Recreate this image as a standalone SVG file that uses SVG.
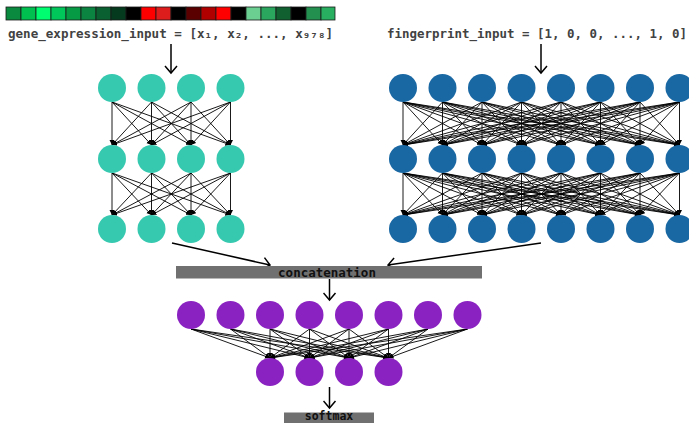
<svg xmlns="http://www.w3.org/2000/svg" width="689" height="423" viewBox="0 0 689 423">
  <style>
    .lbl { font-family: "DejaVu Sans Mono", "Liberation Mono", monospace; font-weight: bold; font-size: 12.5px; fill: #424242; }
    .bar-txt { font-family: "DejaVu Sans Mono", "Liberation Mono", monospace; font-weight: bold; font-size: 12.5px; fill: #111; text-anchor: middle; }
    .cell { stroke: #1a1a1a; stroke-width: 0.8; }
    .gene { fill: #36c9b0; }
    .fp { fill: #1967a3; }
    .dense { fill: #8a22c2; }
    .edge { stroke: #000; stroke-width: 0.9; fill: none; marker-end: url(#tip); }
    .flow { stroke: #000; stroke-width: 1.5; fill: none; marker-end: url(#chev); }
    .bar { fill: #707070; }
  </style>
  <defs>
    <marker id="tip" markerUnits="userSpaceOnUse" markerWidth="6" markerHeight="6" refX="5" refY="2.5" orient="auto">
      <path d="M0,0 L5,2.5 L0,5 Z" fill="#000"/>
    </marker>
    <marker id="chev" markerUnits="userSpaceOnUse" markerWidth="12" markerHeight="14" refX="8" refY="7" orient="auto">
      <path d="M1,1 L8,7 L1,13" fill="none" stroke="#000" stroke-width="1.5"/>
    </marker>
  </defs>

  <!-- expression heatmap strip -->
  <g id="heatmap">
    <rect class="cell" x="6" y="7" width="15" height="13" fill="#0a8a3e"/>
    <rect class="cell" x="21" y="7" width="15" height="13" fill="#00c050"/>
    <rect class="cell" x="36" y="7" width="15" height="13" fill="#00ff70"/>
    <rect class="cell" x="51" y="7" width="15" height="13" fill="#00c75a"/>
    <rect class="cell" x="66" y="7" width="15" height="13" fill="#079a45"/>
    <rect class="cell" x="81" y="7" width="15" height="13" fill="#0a8440"/>
    <rect class="cell" x="96" y="7" width="15" height="13" fill="#0a6030"/>
    <rect class="cell" x="111" y="7" width="15" height="13" fill="#053a1f"/>
    <rect class="cell" x="126" y="7" width="15" height="13" fill="#000000"/>
    <rect class="cell" x="141" y="7" width="15" height="13" fill="#ff0000"/>
    <rect class="cell" x="156" y="7" width="15" height="13" fill="#dd1c1c"/>
    <rect class="cell" x="171" y="7" width="15" height="13" fill="#000000"/>
    <rect class="cell" x="186" y="7" width="15" height="13" fill="#5a0000"/>
    <rect class="cell" x="201" y="7" width="15" height="13" fill="#b00000"/>
    <rect class="cell" x="216" y="7" width="15" height="13" fill="#ff0000"/>
    <rect class="cell" x="231" y="7" width="15" height="13" fill="#000000"/>
    <rect class="cell" x="246" y="7" width="15" height="13" fill="#6ccf92"/>
    <rect class="cell" x="261" y="7" width="15" height="13" fill="#2aa65e"/>
    <rect class="cell" x="276" y="7" width="15" height="13" fill="#106030"/>
    <rect class="cell" x="291" y="7" width="15" height="13" fill="#000000"/>
    <rect class="cell" x="306" y="7" width="15" height="13" fill="#239050"/>
    <rect class="cell" x="321" y="7" width="14" height="13" fill="#28b060"/>
  </g>

  <!-- input labels -->
  <g id="gene-input-label">
    <text class="lbl" x="8" y="38" textLength="325" lengthAdjust="spacingAndGlyphs">gene_expression_input = [x₁, x₂, ..., x₉₇₈]</text>
  </g>
  <g id="fingerprint-input-label">
    <text class="lbl" x="387" y="38" textLength="300" lengthAdjust="spacingAndGlyphs">fingerprint_input = [1, 0, 0, ..., 1, 0]</text>
  </g>

  <!-- connectors -->
  <g id="connectors">
    <!-- input arrows -->
    <path class="flow" d="M171,44 L171,73"/>
    <path class="flow" d="M541,44 L541,73"/>
    <!-- into concatenation -->
    <path class="flow" d="M172,243 L270,265"/>
    <path class="flow" d="M541,243 L388,265"/>
    <!-- out of concatenation -->
    <path class="flow" d="M329.5,279 L329.5,300"/>
    <!-- to softmax -->
    <path class="flow" d="M329.5,387 L329.5,408"/>

    <!-- gene network: layer 1 -> 2 -->
    <g id="gene-edges">
      <path class="edge" d="M112,102 L112,145"/><path class="edge" d="M112,102 L151.5,145"/><path class="edge" d="M112,102 L191,145"/><path class="edge" d="M112,102 L230.5,145"/>
      <path class="edge" d="M151.5,102 L112,145"/><path class="edge" d="M151.5,102 L151.5,145"/><path class="edge" d="M151.5,102 L191,145"/><path class="edge" d="M151.5,102 L230.5,145"/>
      <path class="edge" d="M191,102 L112,145"/><path class="edge" d="M191,102 L151.5,145"/><path class="edge" d="M191,102 L191,145"/><path class="edge" d="M191,102 L230.5,145"/>
      <path class="edge" d="M230.5,102 L112,145"/><path class="edge" d="M230.5,102 L151.5,145"/><path class="edge" d="M230.5,102 L191,145"/><path class="edge" d="M230.5,102 L230.5,145"/>
      <!-- layer 2 -> 3 -->
      <path class="edge" d="M112,173 L112,215"/><path class="edge" d="M112,173 L151.5,215"/><path class="edge" d="M112,173 L191,215"/><path class="edge" d="M112,173 L230.5,215"/>
      <path class="edge" d="M151.5,173 L112,215"/><path class="edge" d="M151.5,173 L151.5,215"/><path class="edge" d="M151.5,173 L191,215"/><path class="edge" d="M151.5,173 L230.5,215"/>
      <path class="edge" d="M191,173 L112,215"/><path class="edge" d="M191,173 L151.5,215"/><path class="edge" d="M191,173 L191,215"/><path class="edge" d="M191,173 L230.5,215"/>
      <path class="edge" d="M230.5,173 L112,215"/><path class="edge" d="M230.5,173 L151.5,215"/><path class="edge" d="M230.5,173 L191,215"/><path class="edge" d="M230.5,173 L230.5,215"/>
    </g>

    <!-- fingerprint network: layer 1 -> 2 -->
    <g id="fp-edges">
      <path class="edge" d="M403,102 L403,145"/><path class="edge" d="M403,102 L442.5,145"/><path class="edge" d="M403,102 L482,145"/><path class="edge" d="M403,102 L521.5,145"/><path class="edge" d="M403,102 L561,145"/><path class="edge" d="M403,102 L600.5,145"/><path class="edge" d="M403,102 L640,145"/><path class="edge" d="M403,102 L679.5,145"/>
      <path class="edge" d="M442.5,102 L403,145"/><path class="edge" d="M442.5,102 L442.5,145"/><path class="edge" d="M442.5,102 L482,145"/><path class="edge" d="M442.5,102 L521.5,145"/><path class="edge" d="M442.5,102 L561,145"/><path class="edge" d="M442.5,102 L600.5,145"/><path class="edge" d="M442.5,102 L640,145"/><path class="edge" d="M442.5,102 L679.5,145"/>
      <path class="edge" d="M482,102 L403,145"/><path class="edge" d="M482,102 L442.5,145"/><path class="edge" d="M482,102 L482,145"/><path class="edge" d="M482,102 L521.5,145"/><path class="edge" d="M482,102 L561,145"/><path class="edge" d="M482,102 L600.5,145"/><path class="edge" d="M482,102 L640,145"/><path class="edge" d="M482,102 L679.5,145"/>
      <path class="edge" d="M521.5,102 L403,145"/><path class="edge" d="M521.5,102 L442.5,145"/><path class="edge" d="M521.5,102 L482,145"/><path class="edge" d="M521.5,102 L521.5,145"/><path class="edge" d="M521.5,102 L561,145"/><path class="edge" d="M521.5,102 L600.5,145"/><path class="edge" d="M521.5,102 L640,145"/><path class="edge" d="M521.5,102 L679.5,145"/>
      <path class="edge" d="M561,102 L403,145"/><path class="edge" d="M561,102 L442.5,145"/><path class="edge" d="M561,102 L482,145"/><path class="edge" d="M561,102 L521.5,145"/><path class="edge" d="M561,102 L561,145"/><path class="edge" d="M561,102 L600.5,145"/><path class="edge" d="M561,102 L640,145"/><path class="edge" d="M561,102 L679.5,145"/>
      <path class="edge" d="M600.5,102 L403,145"/><path class="edge" d="M600.5,102 L442.5,145"/><path class="edge" d="M600.5,102 L482,145"/><path class="edge" d="M600.5,102 L521.5,145"/><path class="edge" d="M600.5,102 L561,145"/><path class="edge" d="M600.5,102 L600.5,145"/><path class="edge" d="M600.5,102 L640,145"/><path class="edge" d="M600.5,102 L679.5,145"/>
      <path class="edge" d="M640,102 L403,145"/><path class="edge" d="M640,102 L442.5,145"/><path class="edge" d="M640,102 L482,145"/><path class="edge" d="M640,102 L521.5,145"/><path class="edge" d="M640,102 L561,145"/><path class="edge" d="M640,102 L600.5,145"/><path class="edge" d="M640,102 L640,145"/><path class="edge" d="M640,102 L679.5,145"/>
      <path class="edge" d="M679.5,102 L403,145"/><path class="edge" d="M679.5,102 L442.5,145"/><path class="edge" d="M679.5,102 L482,145"/><path class="edge" d="M679.5,102 L521.5,145"/><path class="edge" d="M679.5,102 L561,145"/><path class="edge" d="M679.5,102 L600.5,145"/><path class="edge" d="M679.5,102 L640,145"/><path class="edge" d="M679.5,102 L679.5,145"/>
      <!-- layer 2 -> 3 -->
      <path class="edge" d="M403,173 L403,215"/><path class="edge" d="M403,173 L442.5,215"/><path class="edge" d="M403,173 L482,215"/><path class="edge" d="M403,173 L521.5,215"/><path class="edge" d="M403,173 L561,215"/><path class="edge" d="M403,173 L600.5,215"/><path class="edge" d="M403,173 L640,215"/><path class="edge" d="M403,173 L679.5,215"/>
      <path class="edge" d="M442.5,173 L403,215"/><path class="edge" d="M442.5,173 L442.5,215"/><path class="edge" d="M442.5,173 L482,215"/><path class="edge" d="M442.5,173 L521.5,215"/><path class="edge" d="M442.5,173 L561,215"/><path class="edge" d="M442.5,173 L600.5,215"/><path class="edge" d="M442.5,173 L640,215"/><path class="edge" d="M442.5,173 L679.5,215"/>
      <path class="edge" d="M482,173 L403,215"/><path class="edge" d="M482,173 L442.5,215"/><path class="edge" d="M482,173 L482,215"/><path class="edge" d="M482,173 L521.5,215"/><path class="edge" d="M482,173 L561,215"/><path class="edge" d="M482,173 L600.5,215"/><path class="edge" d="M482,173 L640,215"/><path class="edge" d="M482,173 L679.5,215"/>
      <path class="edge" d="M521.5,173 L403,215"/><path class="edge" d="M521.5,173 L442.5,215"/><path class="edge" d="M521.5,173 L482,215"/><path class="edge" d="M521.5,173 L521.5,215"/><path class="edge" d="M521.5,173 L561,215"/><path class="edge" d="M521.5,173 L600.5,215"/><path class="edge" d="M521.5,173 L640,215"/><path class="edge" d="M521.5,173 L679.5,215"/>
      <path class="edge" d="M561,173 L403,215"/><path class="edge" d="M561,173 L442.5,215"/><path class="edge" d="M561,173 L482,215"/><path class="edge" d="M561,173 L521.5,215"/><path class="edge" d="M561,173 L561,215"/><path class="edge" d="M561,173 L600.5,215"/><path class="edge" d="M561,173 L640,215"/><path class="edge" d="M561,173 L679.5,215"/>
      <path class="edge" d="M600.5,173 L403,215"/><path class="edge" d="M600.5,173 L442.5,215"/><path class="edge" d="M600.5,173 L482,215"/><path class="edge" d="M600.5,173 L521.5,215"/><path class="edge" d="M600.5,173 L561,215"/><path class="edge" d="M600.5,173 L600.5,215"/><path class="edge" d="M600.5,173 L640,215"/><path class="edge" d="M600.5,173 L679.5,215"/>
      <path class="edge" d="M640,173 L403,215"/><path class="edge" d="M640,173 L442.5,215"/><path class="edge" d="M640,173 L482,215"/><path class="edge" d="M640,173 L521.5,215"/><path class="edge" d="M640,173 L561,215"/><path class="edge" d="M640,173 L600.5,215"/><path class="edge" d="M640,173 L640,215"/><path class="edge" d="M640,173 L679.5,215"/>
      <path class="edge" d="M679.5,173 L403,215"/><path class="edge" d="M679.5,173 L442.5,215"/><path class="edge" d="M679.5,173 L482,215"/><path class="edge" d="M679.5,173 L521.5,215"/><path class="edge" d="M679.5,173 L561,215"/><path class="edge" d="M679.5,173 L600.5,215"/><path class="edge" d="M679.5,173 L640,215"/><path class="edge" d="M679.5,173 L679.5,215"/>
    </g>

    <!-- dense head: 8 -> 4 -->
    <g id="dense-edges">
      <path class="edge" d="M191,329 L270,358"/><path class="edge" d="M191,329 L309.5,358"/><path class="edge" d="M191,329 L349,358"/><path class="edge" d="M191,329 L388.5,358"/>
      <path class="edge" d="M230.5,329 L270,358"/><path class="edge" d="M230.5,329 L309.5,358"/><path class="edge" d="M230.5,329 L349,358"/><path class="edge" d="M230.5,329 L388.5,358"/>
      <path class="edge" d="M270,329 L270,358"/><path class="edge" d="M270,329 L309.5,358"/><path class="edge" d="M270,329 L349,358"/><path class="edge" d="M270,329 L388.5,358"/>
      <path class="edge" d="M309.5,329 L270,358"/><path class="edge" d="M309.5,329 L309.5,358"/><path class="edge" d="M309.5,329 L349,358"/><path class="edge" d="M309.5,329 L388.5,358"/>
      <path class="edge" d="M349,329 L270,358"/><path class="edge" d="M349,329 L309.5,358"/><path class="edge" d="M349,329 L349,358"/><path class="edge" d="M349,329 L388.5,358"/>
      <path class="edge" d="M388.5,329 L270,358"/><path class="edge" d="M388.5,329 L309.5,358"/><path class="edge" d="M388.5,329 L349,358"/><path class="edge" d="M388.5,329 L388.5,358"/>
      <path class="edge" d="M428,329 L270,358"/><path class="edge" d="M428,329 L309.5,358"/><path class="edge" d="M428,329 L349,358"/><path class="edge" d="M428,329 L388.5,358"/>
      <path class="edge" d="M467.5,329 L270,358"/><path class="edge" d="M467.5,329 L309.5,358"/><path class="edge" d="M467.5,329 L349,358"/><path class="edge" d="M467.5,329 L388.5,358"/>
    </g>
  </g>

  <!-- gene expression network nodes -->
  <g id="gene-l1" class="gene">
    <circle cx="112" cy="88" r="14"/><circle cx="151.5" cy="88" r="14"/><circle cx="191" cy="88" r="14"/><circle cx="230.5" cy="88" r="14"/>
  </g>
  <g id="gene-l2" class="gene">
    <circle cx="112" cy="159" r="14"/><circle cx="151.5" cy="159" r="14"/><circle cx="191" cy="159" r="14"/><circle cx="230.5" cy="159" r="14"/>
  </g>
  <g id="gene-l3" class="gene">
    <circle cx="112" cy="229" r="14"/><circle cx="151.5" cy="229" r="14"/><circle cx="191" cy="229" r="14"/><circle cx="230.5" cy="229" r="14"/>
  </g>

  <!-- fingerprint network nodes -->
  <g id="fp-l1" class="fp">
    <circle cx="403" cy="88" r="14"/><circle cx="442.5" cy="88" r="14"/><circle cx="482" cy="88" r="14"/><circle cx="521.5" cy="88" r="14"/><circle cx="561" cy="88" r="14"/><circle cx="600.5" cy="88" r="14"/><circle cx="640" cy="88" r="14"/><circle cx="679.5" cy="88" r="14"/>
  </g>
  <g id="fp-l2" class="fp">
    <circle cx="403" cy="159" r="14"/><circle cx="442.5" cy="159" r="14"/><circle cx="482" cy="159" r="14"/><circle cx="521.5" cy="159" r="14"/><circle cx="561" cy="159" r="14"/><circle cx="600.5" cy="159" r="14"/><circle cx="640" cy="159" r="14"/><circle cx="679.5" cy="159" r="14"/>
  </g>
  <g id="fp-l3" class="fp">
    <circle cx="403" cy="229" r="14"/><circle cx="442.5" cy="229" r="14"/><circle cx="482" cy="229" r="14"/><circle cx="521.5" cy="229" r="14"/><circle cx="561" cy="229" r="14"/><circle cx="600.5" cy="229" r="14"/><circle cx="640" cy="229" r="14"/><circle cx="679.5" cy="229" r="14"/>
  </g>

  <!-- concatenation bar -->
  <g id="concatenation">
    <rect class="bar" x="176" y="266" width="306" height="12.5"/>
    <text class="bar-txt" x="327" y="276.5">concatenation</text>
  </g>

  <!-- dense head nodes -->
  <g id="dense-l1" class="dense">
    <circle cx="191" cy="315" r="14"/><circle cx="230.5" cy="315" r="14"/><circle cx="270" cy="315" r="14"/><circle cx="309.5" cy="315" r="14"/><circle cx="349" cy="315" r="14"/><circle cx="388.5" cy="315" r="14"/><circle cx="428" cy="315" r="14"/><circle cx="467.5" cy="315" r="14"/>
  </g>
  <g id="dense-l2" class="dense">
    <circle cx="270" cy="372" r="14"/><circle cx="309.5" cy="372" r="14"/><circle cx="349" cy="372" r="14"/><circle cx="388.5" cy="372" r="14"/>
  </g>

  <!-- softmax bar -->
  <g id="softmax">
    <rect class="bar" x="284" y="412.5" width="90" height="10.5"/>
    <text class="bar-txt" x="329" y="420" style="font-size:11.5px">softmax</text>
  </g>
</svg>
